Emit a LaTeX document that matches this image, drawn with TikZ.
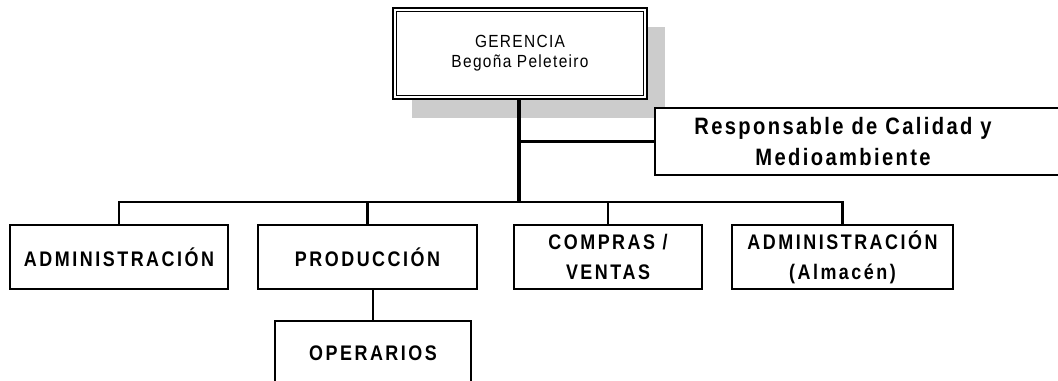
\documentclass[tikz,border=0pt]{standalone}
\usepackage{fontspec}
\setmainfont{Liberation Sans}
\newfontfamily\labelfont{Liberation Sans}[LetterSpace=12, FakeStretch=0.85]
\newfontfamily\respfont{Liberation Sans}[LetterSpace=10, FakeStretch=0.85]
\newfontfamily\gerfont{Liberation Sans}[LetterSpace=7.5, FakeStretch=0.88]
\usetikzlibrary{shadows}
\begin{document}
\begin{tikzpicture}[x=0.02cm,y=-0.02cm,line width=1.4pt,
	box/.style={draw, fill=white, align=center, inner sep=0pt,
		font=\labelfont\bfseries\fontsize{12}{17}\selectfont},
	gerbox/.style={draw, line width=1.6pt, fill=white, align=center, inner sep=0pt,
		font=\gerfont\fontsize{10}{11.5}\selectfont,
		drop shadow={shadow xshift=0.37cm, shadow yshift=-0.38cm, fill=black!20, opacity=1, draw=none}}]
	\useasboundingbox (0,0) rectangle (1058,381);
	\clip (0,0) rectangle (1058,381);
	% gerencia
	\node (ger) at (520, 53.5)	[gerbox, minimum width=5.08cm, minimum height=1.82cm]	{GERENCIA\\Bego\~na Peleteiro};
	\draw[line width=0.9pt] ([shift={(0.1cm,0.1cm)}]ger.south west) rectangle ([shift={(-0.1cm,-0.1cm)}]ger.north east);
	% responsable
	\node (resp) at (654, 141.5)	[box, anchor=west, minimum width=9cm, minimum height=1.34cm]	{};
	\node (resptxt) at (843, 141.5)	[align=center, font=\respfont\bfseries\fontsize{13.5}{17.6}\selectfont]	{Responsable de Calidad y\\Medioambiente};
	% departamentos
	\node (adm) at (119, 257)	[box, minimum width=4.36cm, minimum height=1.28cm]	{ADMINISTRACI\'ON};
	\node (prod) at (367.5, 257)	[box, minimum width=4.38cm, minimum height=1.28cm]	{PRODUCCI\'ON};
	\node (comp) at (608, 257)	[box, minimum width=3.76cm, minimum height=1.28cm]	{COMPRAS /\\VENTAS};
	\node (alm) at (842.5, 257)	[box, minimum width=4.42cm, minimum height=1.28cm]	{ADMINISTRACI\'ON\\(Almac\'en)};
	\node (oper) at (373, 353)	[box, minimum width=3.92cm, minimum height=1.28cm]	{OPERARIOS};
	\coordinate (bus) at (519, 202);
	\draw[line width=1.8pt] (ger.south -| bus) -- (bus);
	\draw (bus |- resp.west) -- (resp.west);
	\draw (adm.north) |- (bus) -| (alm.north);
	\draw (prod.north) -- (prod.north |- bus);
	\draw (comp.north) -- (comp.north |- bus);
	\draw (oper.north) -- (oper.north |- prod.south);
\end{tikzpicture}
\end{document}
